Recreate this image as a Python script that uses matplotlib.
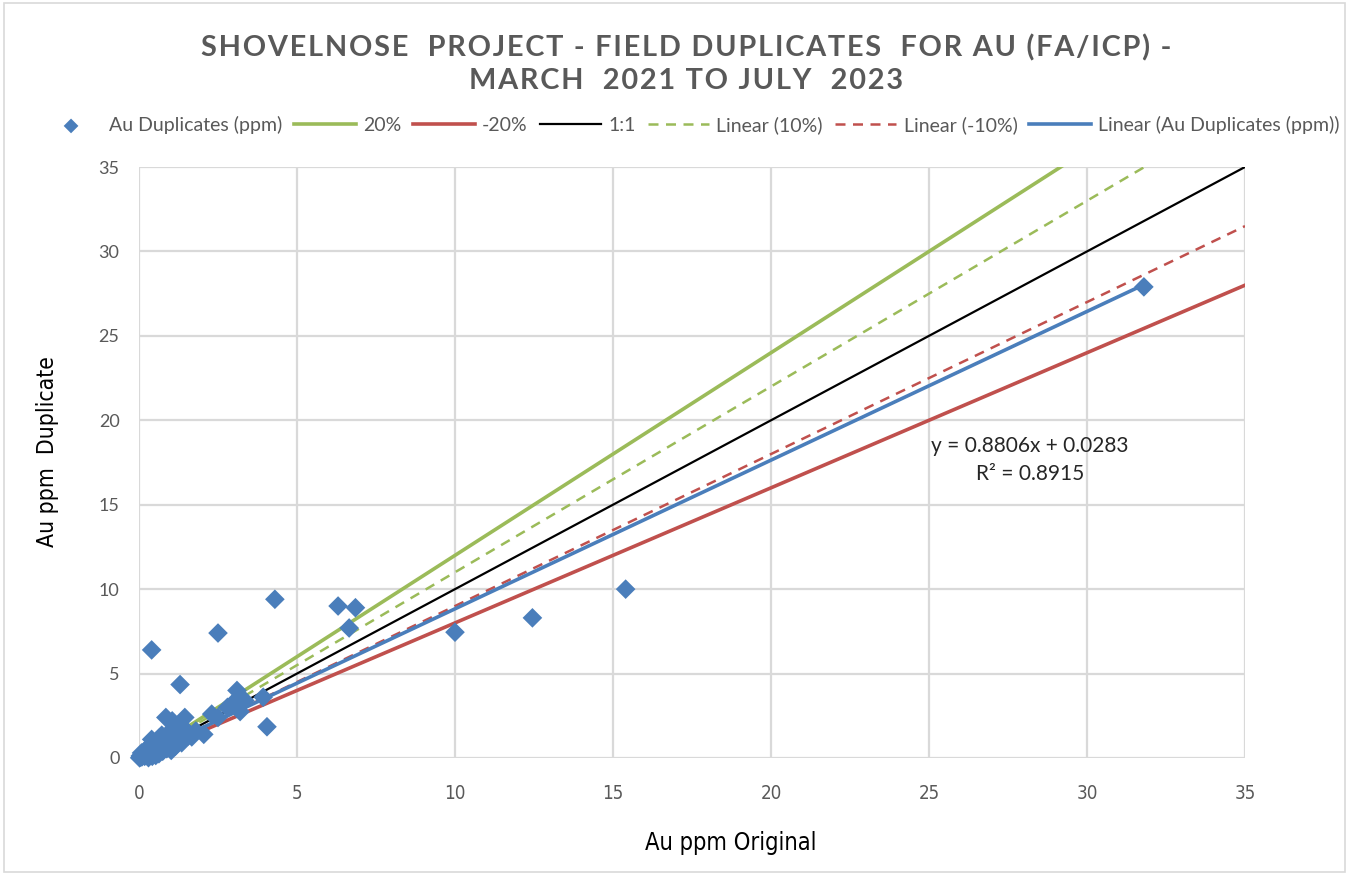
import matplotlib
matplotlib.use("Agg")
import matplotlib.pyplot as plt
import numpy as np
from matplotlib.patches import Rectangle

# Au field duplicate pairs (ppm): original vs duplicate
au_original = [
    0.02, 0.04, 0.06, 0.08, 0.10, 0.12, 0.15, 0.18, 0.20, 0.22, 0.25, 0.28,
    0.30, 0.33, 0.35, 0.38, 0.40, 0.42, 0.45, 0.48, 0.50, 0.53, 0.55, 0.58,
    0.60, 0.63, 0.65, 0.70, 0.72, 0.75, 0.80, 0.82, 0.85, 0.88, 0.90, 0.95,
    1.00, 1.02, 1.05, 1.08, 1.10, 1.15, 1.20, 1.25, 1.30, 1.35, 1.40, 1.45,
    1.50, 1.55, 1.67, 1.80, 2.05, 2.30, 2.50, 2.80, 3.00, 3.10, 3.20, 3.35,
    3.93, 4.05, 0.40, 1.30, 2.50, 4.30, 6.30, 6.65, 6.85, 10.0, 12.45, 15.4,
    31.8,
]
au_duplicate = [
    0.01, 0.12, 0.05, 0.30, 0.08, 0.20, 0.35, 0.10, 0.25, 0.45, 0.15, 0.40,
    0.02, 0.60, 0.25, 0.80, 1.10, 0.10, 0.55, 0.30, 0.70, 0.15, 1.00, 0.45,
    0.90, 0.25, 1.20, 0.60, 1.35, 0.40, 0.75, 1.10, 2.40, 0.55, 1.00, 1.40,
    1.60, 0.45, 2.20, 0.90, 1.30, 0.70, 1.50, 1.00, 1.20, 0.90, 1.80, 2.40,
    1.60, 1.30, 1.25, 1.60, 1.40, 2.60, 2.40, 3.00, 3.30, 4.00, 2.75, 3.40,
    3.60, 1.85, 6.40, 4.35, 7.40, 9.40, 9.00, 7.70, 8.90, 7.45, 8.30, 10.0,
    27.9,
]

# Reference lines and the least-squares fit
ref_x = [0, 35]
fit_slope = 0.8806
fit_intercept = 0.0283
fit_r2 = 0.8915

x_ticks = [0, 5, 10, 15, 20, 25, 30, 35]
y_ticks = [0, 5, 10, 15, 20, 25, 30, 35]

title_lines = ["SHOVELNOSE  PROJECT - FIELD DUPLICATES  FOR AU (FA/ICP) -",
               "MARCH  2021 TO JULY  2023"]

BLUE = "#4A7EBB"
GREEN = "#9BBB59"
RED = "#C0504D"
GREY_TXT = "#595959"
GRID = "#D9D9D9"

W, H = 1349, 875
fig = plt.figure(figsize=(W / 100, H / 100), dpi=100)
ax = fig.add_axes([139 / W, 1 - 758 / H, (1245 - 139) / W, (758 - 167) / H])

rx = np.array(ref_x, dtype=float)
ax.plot(rx, 1.2 * rx, color=GREEN, lw=2.6, label="20%", zorder=3)
ax.plot(rx, 0.8 * rx, color=RED, lw=2.6, label="-20%", zorder=3)
ax.plot(rx, rx, color="black", lw=1.6, label="1:1", zorder=3)
ax.plot(rx, 1.1 * rx, color=GREEN, lw=1.8, ls=(0, (4, 3)), label="Linear (10%)", zorder=3)
ax.plot(rx, 0.9 * rx, color=RED, lw=1.8, ls=(0, (4, 3)), label="Linear (-10%)", zorder=3)
fx = np.array([min(au_original), max(au_original)])
ax.plot(fx, fit_slope * fx + fit_intercept, color=BLUE, lw=2.6,
        label="Linear (Au Duplicates (ppm))", zorder=3)
ax.scatter(au_original, au_duplicate, marker="D", s=100, color=BLUE, edgecolors="none",
           label="Au Duplicates (ppm)", zorder=4, clip_on=False)

ax.set_xlim(0, 35)
ax.set_ylim(0, 35)
ax.set_xticks(x_ticks)
ax.set_yticks(y_ticks)
ax.grid(True, color=GRID, lw=1.6)
ax.set_axisbelow(True)
for s in ax.spines.values():
    s.set_visible(False)
ax.tick_params(axis="y", length=0, labelsize=13, labelcolor=GREY_TXT, pad=14)
ax.tick_params(axis="x", length=0, labelsize=13.5, labelcolor=GREY_TXT, pad=19)
for lab in ax.get_xticklabels():
    lab.set_family(["DejaVu Sans"])
    lab.set_stretch("condensed")
for lab in ax.get_yticklabels():
    lab.set_family(["Lato", "DejaVu Sans"])

fig.text(731 / W, 1 - 843 / H, "Au ppm Original", ha="center", va="center", fontsize=17,
         family=["DejaVu Sans"], stretch="condensed", color="black")
fig.text(48 / W, 1 - 452 / H, "Au ppm  Duplicate", ha="center", va="center", fontsize=16.5,
         family=["DejaVu Sans"], stretch="condensed", rotation=90, color="black")

ax.text(28.2, 18.5, f"y = {fit_slope}x + {fit_intercept}", ha="center", va="center",
        fontsize=15, family=["Lato", "DejaVu Sans"], color="#262626")
ax.text(28.2, 16.8, f"R² = {fit_r2}", ha="center", va="center",
        fontsize=15, family=["Lato", "DejaVu Sans"], color="#262626")

# Title with slightly widened tracking (hair spaces between letters)
for line, ypix in zip(title_lines, [48, 81]):
    tracked = "\u200a".join(line)
    fig.text(686 / W, 1 - ypix / H, tracked, ha="center", va="center", fontsize=20.8,
             fontweight="bold", color=GREY_TXT, family=["Lato", "DejaVu Sans"])

handles, labels = ax.get_legend_handles_labels()
order = ["Au Duplicates (ppm)", "20%", "-20%", "1:1", "Linear (10%)", "Linear (-10%)",
         "Linear (Au Duplicates (ppm))"]
hmap = dict(zip(labels, handles))
leg = fig.legend([hmap[k] for k in order], order, loc="center", bbox_to_anchor=(690 / W, 1 - 125 / H),
                 ncol=7, frameon=False, handlelength=3.15, columnspacing=0.62,
                 handletextpad=0.38, prop={"family": ["Lato", "DejaVu Sans"], "size": 14},
                 scatterpoints=1, markerscale=0.75)
for t in leg.get_texts():
    t.set_color(GREY_TXT)

fig.patches.append(Rectangle((0.003, 0.003), 0.994, 0.994, transform=fig.transFigure,
                             fill=False, edgecolor="#D9D9D9", lw=1.2))

fig.savefig("out.png", dpi=100)
